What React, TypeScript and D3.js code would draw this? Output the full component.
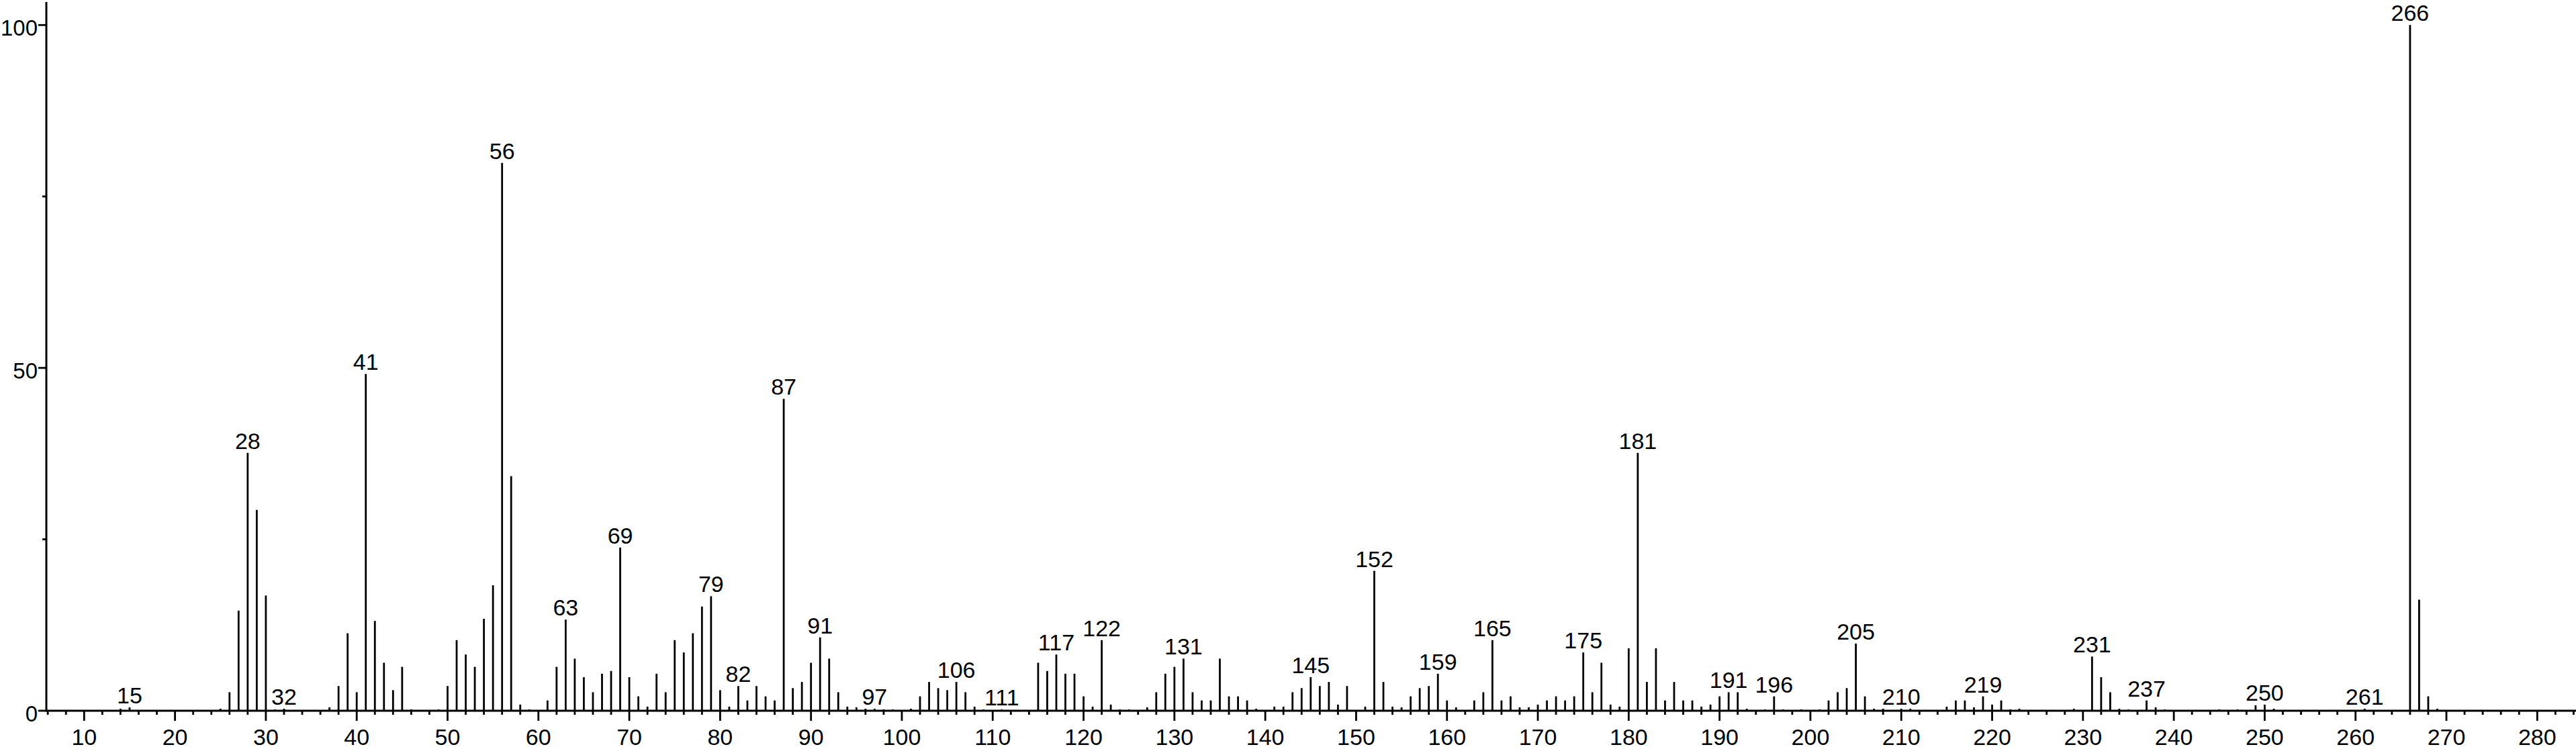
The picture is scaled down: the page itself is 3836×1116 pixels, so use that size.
import React from "react";
import * as d3 from "d3";

const massValues: number[] = [
  14, 15, 25, 26, 27, 28, 29, 30, 31, 32, 37, 38, 39, 40, 41, 42, 43, 44, 45, 46, 49, 50,
  51, 52, 53, 54, 55, 56, 57, 58, 59, 61, 62, 63, 64, 65, 66, 67, 68, 69, 70, 71, 72, 73,
  74, 75, 76, 77, 78, 79, 80, 81, 82, 83, 84, 85, 86, 87, 88, 89, 90, 91, 92, 93, 94, 95,
  96, 97, 98, 99, 101, 102, 103, 104, 105, 106, 107, 108, 109, 111, 113, 115, 116, 117,
  118, 119, 120, 121, 122, 123, 124, 125, 127, 128, 129, 130, 131, 132, 133, 134, 135,
  136, 137, 138, 139, 141, 142, 143, 144, 145, 146, 147, 148, 149, 151, 152, 153, 154,
  155, 156, 157, 158, 159, 160, 161, 163, 164, 165, 166, 167, 168, 169, 170, 171, 172,
  173, 174, 175, 176, 177, 178, 179, 180, 181, 182, 183, 184, 185, 186, 187, 188, 189,
  190, 191, 192, 193, 195, 196, 197, 199, 201, 202, 203, 204, 205, 206, 207, 208, 210,
  211, 215, 216, 217, 218, 219, 220, 221, 222, 223, 229, 231, 232, 233, 234, 235, 237,
  238, 239, 245, 247, 249, 250, 251, 261, 266, 267, 268, 269,
];

const intensityValues: number[] = [
  0.3, 0.5, 0.3, 2.7, 14.6, 37.6, 29.3, 16.8, 0.2, 0.3, 0.5, 3.6, 11.3, 2.7, 49.1, 13.1, 7.0, 3.0, 6.4, 0.2, 0.2, 3.6,
  10.3, 8.2, 6.4, 13.4, 18.3, 79.9, 34.2, 0.9, 0.2, 1.5, 6.4, 13.3, 7.6, 4.9, 2.7, 5.4, 5.8, 23.8, 4.9, 2.1, 0.6, 5.4,
  2.7, 10.3, 8.5, 11.3, 15.2, 16.7, 3.0, 0.6, 3.6, 1.5, 3.6, 2.1, 1.5, 45.5, 3.3, 4.2, 7.0, 10.7, 7.6, 2.7, 0.6, 0.5,
  0.3, 0.3, 0.2, 0.2, 0.3, 2.1, 4.2, 3.3, 3.0, 4.2, 2.7, 0.6, 0.2, 0.2, 0.1, 7.0, 5.8, 8.2,
  5.4, 5.4, 2.1, 0.6, 10.3, 0.9, 0.2, 0.2, 0.5, 2.7, 5.4, 6.4, 7.6, 2.7, 1.5, 1.5, 7.6,
  2.1, 2.1, 1.5, 0.3, 0.6, 0.6, 2.7, 3.3, 4.9, 3.6, 4.2, 0.9, 3.6, 0.6, 20.4, 4.2, 0.6,
  0.5, 2.1, 3.3, 3.6, 5.4, 1.5, 0.5, 1.5, 2.7, 10.3, 1.5, 2.1, 0.5, 0.5, 0.9, 1.5, 2.1,
  1.5, 2.1, 8.5, 2.7, 7.0, 0.9, 0.6, 9.1, 37.6, 4.2, 9.1, 1.5, 4.2, 1.5, 1.5, 0.6, 0.9,
  2.1, 2.7, 2.7, 0.3, 0.2, 2.1, 0.2, 0.2, 0.2, 1.5, 2.7, 3.3, 9.8, 2.1, 0.3, 0.3, 0.3,
  0.3, 0.6, 1.5, 1.5, 0.5, 2.1, 0.9, 1.5, 0.2, 0.3, 0.3, 7.9, 4.9, 2.7, 0.3, 0.2, 1.5,
  0.5, 0.2, 0.2, 0.2, 0.8, 0.9, 0.3, 0.3, 100, 16.2, 2.1, 0.3,
];

const labeledMasses: number[] = [
  15, 28, 32, 41, 56, 63, 69, 79, 82, 87, 91, 97, 106, 111, 117, 122, 131, 145, 152,
  159, 165, 175, 181, 191, 196, 205, 210, 219, 231, 237, 250, 261, 266,
];

const xMajorTicks: number[] = d3.range(10, 281, 10);
const xMinorTicks: number[] = d3.range(6, 285, 2).filter((v) => v % 10 !== 0);
const yMajorTicks: number[] = [0, 50, 100];
const yMinorTicks: number[] = [25, 75];

const W = 3836;
const H = 1116;
const FONT = "'Liberation Sans', Arial, Helvetica, sans-serif";
const FS = 34;
const FS_Y = 33;

export default function App() {
  const x = d3.scaleLinear().domain([10, 280]).range([125.3, 3778.3]);
  const y = d3.scaleLinear().domain([0, 100]).range([1059, 37.3]);
  const axisX0 = 69;
  const baseY = y(0);

  const peaks = massValues.map((m, i) => ({ m, v: intensityValues[i] }));
  const valueOf = new Map(peaks.map((p) => [p.m, p.v]));

  return (
    <svg
      width={W}
      height={H}
      style={{ position: "absolute", left: 0, top: 0, background: "#fff" }}
      fontFamily={FONT}
    >
      <rect x={0} y={0} width={W} height={H} fill="#fff" />
      {peaks.map((p) => (
        <line
          key={"p" + p.m}
          x1={x(p.m)}
          x2={x(p.m)}
          y1={baseY}
          y2={y(p.v)}
          stroke="#000"
          strokeWidth={2.8}
        />
      ))}
      <line x1={axisX0} x2={W} y1={baseY} y2={baseY} stroke="#000" strokeWidth={3} />
      {xMajorTicks.map((t) => (
        <g key={"xt" + t}>
          <line x1={x(t)} x2={x(t)} y1={baseY} y2={baseY + 15} stroke="#000" strokeWidth={2.8} />
          <text x={x(t)} y={1110} fontSize={FS} textAnchor="middle" fill="#000">
            {t}
          </text>
        </g>
      ))}
      {xMinorTicks.map((t) => (
        <line key={"xm" + t} x1={x(t)} x2={x(t)} y1={baseY} y2={baseY + 6} stroke="#000" strokeWidth={2.8} />
      ))}
      <line x1={axisX0} x2={axisX0} y1={3} y2={baseY + 1.5} stroke="#000" strokeWidth={3} />
      {yMajorTicks.map((t) => (
        <g key={"yt" + t}>
          <line x1={axisX0 - 12} x2={axisX0} y1={y(t)} y2={y(t)} stroke="#000" strokeWidth={2.8} />
          <text x={56} y={y(t) + 16} fontSize={FS_Y} textAnchor="end" fill="#000">
            {t}
          </text>
        </g>
      ))}
      {yMinorTicks.map((t) => (
        <line key={"ym" + t} x1={axisX0 - 6} x2={axisX0} y1={y(t)} y2={y(t)} stroke="#000" strokeWidth={2.8} />
      ))}
      {labeledMasses.map((m) => (
        <text
          key={"l" + m}
          x={x(m)}
          y={y(valueOf.get(m) ?? 0) - 6}
          fontSize={FS}
          textAnchor="middle"
          fill="#000"
        >
          {m}
        </text>
      ))}
    </svg>
  );
}
